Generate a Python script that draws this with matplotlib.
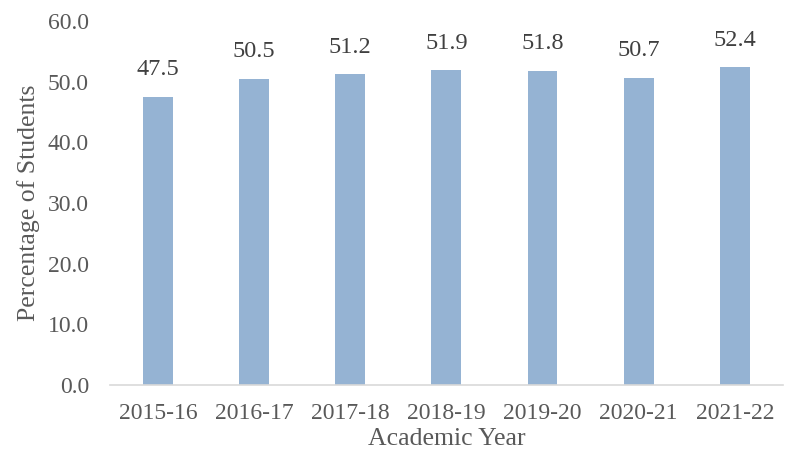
import matplotlib.pyplot as plt
import numpy as np

years = ['2015-16', '2016-17', '2017-18', '2018-19', '2019-20', '2020-21', '2021-22']
pct = [47.5, 50.5, 51.2, 51.9, 51.8, 50.7, 52.4]

plt.rcParams['font.family'] = ['Liberation Serif', 'DejaVu Serif']

fig = plt.figure(figsize=(7.9, 4.58), dpi=100)
ax = fig.add_axes([0.139, 0.159, 0.852, 0.795])

x = np.arange(len(years))
bars = ax.bar(x, pct, width=0.31, color='#95b3d3')

for xi, v in zip(x, pct):
  ax.annotate('{0:.1f}'.format(v), (xi, v), xytext=(0, 12), textcoords='offset points',
              ha='center', va='bottom', fontsize=17.5, color='#404040')

ax.set_xlim(-0.5, len(years) - 0.5)
ax.set_ylim(0, 60)
ax.set_yticks(np.arange(0, 61, 10))
ax.set_yticklabels(['{0:.1f}'.format(t) for t in np.arange(0, 61, 10)])
ax.set_xticks(x)
ax.set_xticklabels(years)
ax.tick_params(axis='both', length=0, labelsize=17, labelcolor='#595959')
ax.tick_params(axis='y', pad=15)
ax.tick_params(axis='x', pad=13)

for s in ['top', 'right', 'left']:
  ax.spines[s].set_visible(False)
ax.spines['bottom'].set_color('#d9d9d9')
ax.spines['bottom'].set_linewidth(1.2)

ax.set_xlabel('Academic Year', fontsize=18.5, color='#595959', labelpad=3)
ax.set_ylabel('Percentage of Students', fontsize=18.5, color='#595959', labelpad=6)

fig.savefig('out.png', dpi=100)
